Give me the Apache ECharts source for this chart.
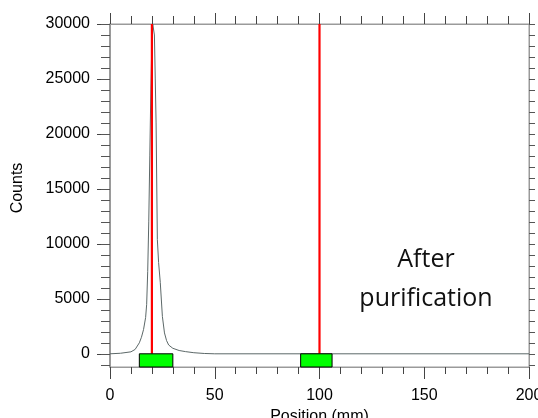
<!DOCTYPE html>
<html>
<head>
<meta charset="utf-8">
<script src="https://cdn.jsdelivr.net/npm/echarts@6/dist/echarts.min.js"></script>
<style>
html,body{margin:0;padding:0;background:#fff;}
#c{width:538px;height:418px;}
</style>
</head>
<body>
<div id="c"></div>
<script>
// Data
const positions = [0, 5, 10, 12, 14, 15, 16, 17, 17.5, 18, 18.5, 19, 19.5, 20, 20.4, 20.8, 21.2, 21.6, 22, 22.6, 23.2, 24, 25, 26, 27, 28, 30, 33, 36, 40, 45, 50, 200];
const counts = [0, 50, 180, 400, 1000, 1500, 2200, 3300, 4500, 7500, 12000, 18000, 24000, 28500, 30000, 30000, 29000, 25000, 21000, 10400, 8300, 6500, 3400, 1900, 1200, 800, 500, 300, 200, 100, 30, 0, 0];
const markerPositions = [20, 100];
const windowRanges = [[14, 30], [91, 106]];
const xTicks = [0, 50, 100, 150, 200];
const yMajorTicks = [0, 5000, 10000, 15000, 20000, 25000, 30000];
const yMinorTicks = [-1000, 0, 1000, 2000, 3000, 4000, 5000, 6000, 7000, 8000, 9000, 10000, 11000, 12000, 13000, 14000, 15000, 16000, 17000, 18000, 19000, 20000, 21000, 22000, 23000, 24000, 25000, 26000, 27000, 28000, 29000, 30000];
const annotationLines = ['After', 'purification'];

const Y_MIN = -1200, Y_MAX = 30000;
const fontMain = 'Liberation Sans, Arial, sans-serif';

const chart = echarts.init(document.getElementById('c'), null, {renderer: 'canvas'});

const curveData = positions.map((p, i) => [p, counts[i]]);

const baseY = {
  type: 'value', min: Y_MIN, max: Y_MAX, splitLine: {show: false}
};

const option = {
  animation: false,
  backgroundColor: '#fff',
  grid: {left: 110, right: 9, top: 24, bottom: 51, show: true, borderColor: '#9a9a9a', borderWidth: 1,
         containLabel: false, outerBoundsMode: 'none'},
  xAxis: [
    {
      type: 'value', min: 0, max: 200, interval: 50, position: 'bottom',
      name: 'Position (mm)', nameLocation: 'middle', nameGap: 36,
      nameTextStyle: {fontFamily: fontMain, fontSize: 16, color: '#000'},
      axisLine: {show: true, onZero: false, lineStyle: {color: '#9a9a9a', width: 1}},
      axisTick: {show: true, inside: false, length: 12, lineStyle: {color: '#444', width: 1}},
      minorTick: {show: true, splitNumber: 5, length: 7, lineStyle: {color: '#444', width: 1}},
      axisLabel: {fontFamily: fontMain, fontSize: 16, color: '#000', margin: 21, formatter: v => String(v)},
      splitLine: {show: false}
    },
    {
      type: 'value', min: 0, max: 200, interval: 50, position: 'top',
      axisLine: {show: true, onZero: false, lineStyle: {color: '#9a9a9a', width: 1}},
      axisTick: {show: true, inside: false, length: 11, lineStyle: {color: '#444', width: 1}},
      minorTick: {show: true, splitNumber: 5, length: 8, lineStyle: {color: '#444', width: 1}},
      axisLabel: {show: false},
      splitLine: {show: false}
    }
  ],
  yAxis: [
    Object.assign({}, baseY, {
      position: 'left',
      name: 'Counts', nameLocation: 'middle', nameGap: 84, nameRotate: 90,
      nameTextStyle: {fontFamily: fontMain, fontSize: 16, color: '#000', padding: [0, 0, 0, 15]},
      axisLine: {show: true, onZero: false, lineStyle: {color: '#8a8a8a', width: 1.5}},
      axisTick: {show: true, inside: false, length: 13, customValues: yMajorTicks, lineStyle: {color: '#444', width: 1}},
      axisLabel: {fontFamily: fontMain, fontSize: 16, color: '#000', margin: 20, customValues: yMajorTicks,
                  formatter: v => String(v)}
    }),
    Object.assign({}, baseY, {
      position: 'left',
      axisLine: {show: false},
      axisTick: {show: true, inside: false, length: 9, customValues: yMinorTicks, lineStyle: {color: '#555', width: 1}},
      axisLabel: {show: false}
    }),
    Object.assign({}, baseY, {
      position: 'right',
      axisLine: {show: true, onZero: false, lineStyle: {color: '#9a9a9a', width: 1}},
      axisTick: {show: true, inside: false, length: 6, customValues: yMinorTicks, lineStyle: {color: '#555', width: 1}},
      axisLabel: {show: false}
    })
  ],
  series: [
    {
      type: 'line', xAxisIndex: 0, yAxisIndex: 0,
      data: curveData, showSymbol: false, clip: true,
      lineStyle: {color: '#5c6868', width: 1}, z: 3
    },
    ...markerPositions.map(p => ({
      type: 'line', xAxisIndex: 0, yAxisIndex: 0,
      data: [[p, 0], [p, Y_MAX]], showSymbol: false,
      lineStyle: {color: '#ff0000', width: 2.2}, z: 4
    })),
    {
      type: 'custom', xAxisIndex: 0, yAxisIndex: 0,
      data: windowRanges.map(r => [r[0], r[1]]),
      renderItem: function (params, api) {
        const p1 = api.coord([api.value(0), 0]);
        const p2 = api.coord([api.value(1), Y_MIN]);
        return {
          type: 'rect',
          shape: {x: p1[0], y: p1[1], width: p2[0] - p1[0], height: p2[1] - p1[1]},
          style: {fill: '#00ff00', stroke: '#000', lineWidth: 1}
        };
      },
      z: 5
    }
  ],
  graphic: annotationLines.map((t, i) => ({
    type: 'text',
    x: 426, y: 247 + i * 39,
    style: {text: t, fontFamily: 'Open Sans, sans-serif', fontSize: 25, fill: '#111', textAlign: 'center'}
  }))
};

chart.setOption(option);
</script>
</body>
</html>
